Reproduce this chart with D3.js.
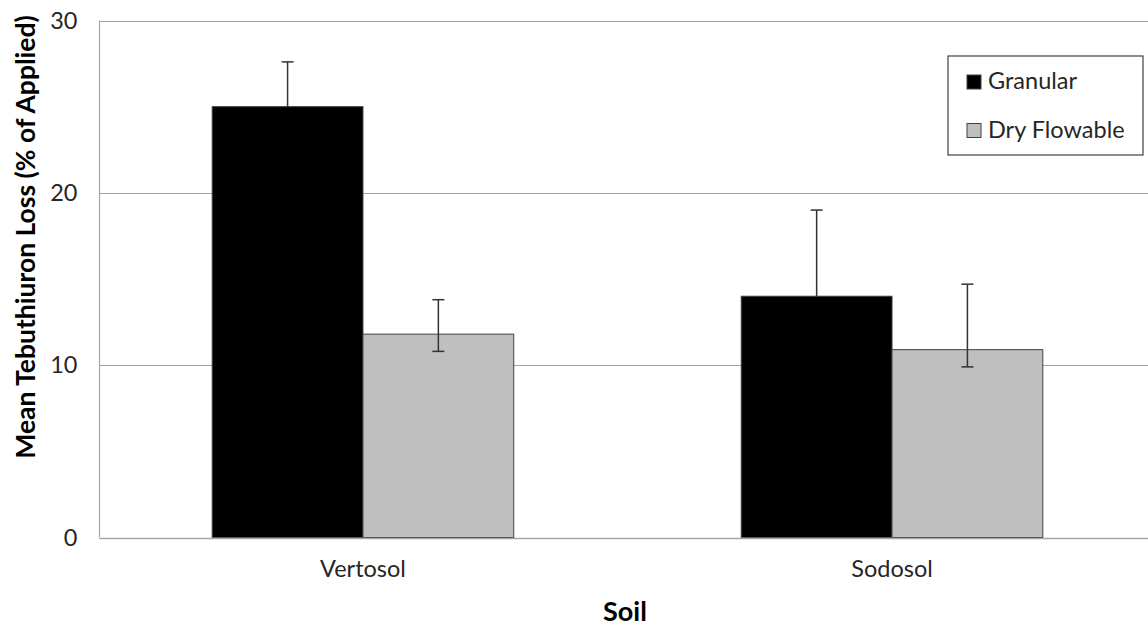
<!DOCTYPE html>
<html>
<head>
<meta charset="utf-8">
<script src="https://cdn.jsdelivr.net/npm/d3@7"></script>
<style>
  body { margin: 0; background: #fff; }
  text { font-family: Lato, "Open Sans", sans-serif; }
</style>
</head>
<body>
<div id="chart"></div>
<script>
// data
var soils = ["Vertosol", "Sodosol"];
var seriesNames = ["Granular", "Dry Flowable"];
var granular = [25.0, 14.0];
var dryFlowable = [11.8, 10.9];
var granularErrPlus = [2.6, 5.0];
var granularErrMinus = [0, 0];   // hidden inside the black bars
var dryErrPlus = [2.0, 3.8];
var dryErrMinus = [1.0, 1.0];
var yTicks = [0, 10, 20, 30];

var svgWidth = 1148;
var svgHeight = 628;

var plot = {
    left: 99.5,
    right: 1155.5,   // runs past the right edge of the picture
    top: 20.5,
    bottom: 537.5
};

var colors = { "Granular": "#000000", "Dry Flowable": "#bfbfbf" };
var outline = { "Granular": "#404040", "Dry Flowable": "#404040" };

var svg = d3.select("#chart")
            .append("svg")
            .attr("width", svgWidth)
            .attr("height", svgHeight);

var rows = soils.map(function(s, i){
    return {
        soil: s,
        values: [
            { name: "Granular", value: granular[i], plus: granularErrPlus[i], minus: granularErrMinus[i] },
            { name: "Dry Flowable", value: dryFlowable[i], plus: dryErrPlus[i], minus: dryErrMinus[i] }
        ]
    };
});

var yScale = d3.scaleLinear()
                .domain([0, 30])
                .range([plot.bottom, plot.top]);

var x0 = d3.scaleBand()
            .domain(soils)
            .range([plot.left, plot.right])
            .paddingInner(0.43)
            .paddingOuter(0.213);

var x1 = d3.scaleBand()
            .domain(seriesNames)
            .range([0, x0.bandwidth()]);

// gridlines
svg.append("g")
    .selectAll("line")
    .data(yTicks)
    .enter()
    .append("line")
    .attr("x1", plot.left)
    .attr("x2", plot.right)
    .attr("y1", function(d){ return Math.round(yScale(d)) + 0.5; })
    .attr("y2", function(d){ return Math.round(yScale(d)) + 0.5; })
    .attr("stroke", "#a6a6a6")
    .attr("stroke-width", 1.2);

// left axis line
svg.append("line")
    .attr("x1", plot.left).attr("x2", plot.left)
    .attr("y1", yScale(30)).attr("y2", yScale(0))
    .attr("stroke", "#a6a6a6")
    .attr("stroke-width", 1.2);

// bars
var groups = svg.append("g")
                .selectAll("g")
                .data(rows)
                .enter()
                .append("g")
                .attr("transform", function(d){ return "translate(" + x0(d.soil) + ",0)"; });

groups.selectAll("rect")
    .data(function(d){ return d.values; })
    .enter()
    .append("rect")
    .attr("x", function(d){ return x1(d.name); })
    .attr("y", function(d){ return yScale(d.value); })
    .attr("width", x1.bandwidth())
    .attr("height", function(d){ return yScale(0) - yScale(d.value); })
    .attr("fill", function(d){ return colors[d.name]; })
    .attr("stroke", function(d){ return outline[d.name]; })
    .attr("stroke-width", 1);

// error bars
var errs = groups.selectAll("g.err")
                .data(function(d){ return d.values; })
                .enter()
                .append("g")
                .attr("class", "err")
                .attr("stroke", "#333333")
                .attr("stroke-width", 1.5);

errs.append("line")
    .attr("x1", function(d){ return x1(d.name) + x1.bandwidth() / 2; })
    .attr("x2", function(d){ return x1(d.name) + x1.bandwidth() / 2; })
    .attr("y1", function(d){ return yScale(d.value + d.plus); })
    .attr("y2", function(d){ return yScale(d.value - d.minus); });

errs.append("line")
    .attr("x1", function(d){ return x1(d.name) + x1.bandwidth() / 2 - 6; })
    .attr("x2", function(d){ return x1(d.name) + x1.bandwidth() / 2 + 6; })
    .attr("y1", function(d){ return yScale(d.value + d.plus); })
    .attr("y2", function(d){ return yScale(d.value + d.plus); });

errs.filter(function(d){ return d.minus > 0; })
    .append("line")
    .attr("x1", function(d){ return x1(d.name) + x1.bandwidth() / 2 - 6; })
    .attr("x2", function(d){ return x1(d.name) + x1.bandwidth() / 2 + 6; })
    .attr("y1", function(d){ return yScale(d.value - d.minus); })
    .attr("y2", function(d){ return yScale(d.value - d.minus); });

// bottom axis line
svg.append("line")
    .attr("x1", plot.left).attr("x2", plot.right)
    .attr("y1", Math.round(yScale(0)) + 0.5).attr("y2", Math.round(yScale(0)) + 0.5)
    .attr("stroke", "#a6a6a6")
    .attr("stroke-width", 1.5);

// y tick labels
var yAxis = d3.axisLeft(yScale)
                .tickValues(yTicks)
                .tickSize(0)
                .tickPadding(22);

var yAxisG = svg.append("g")
                .attr("transform", "translate(" + plot.left + ",0)")
                .call(yAxis);
yAxisG.select(".domain").remove();
yAxisG.selectAll("text")
    .attr("font-family", "Lato")
    .attr("font-size", 23.5)
    .attr("fill", "#262626");

// x tick labels
var xAxis = d3.axisBottom(x0)
                .tickSize(0)
                .tickPadding(23);

var xAxisG = svg.append("g")
                .attr("transform", "translate(0," + plot.bottom + ")")
                .call(xAxis);
xAxisG.select(".domain").remove();
xAxisG.selectAll("text")
    .attr("font-family", "Lato")
    .attr("font-size", 23.5)
    .attr("fill", "#262626");

// axis titles
svg.append("text")
    .attr("x", 625)
    .attr("y", 621)
    .attr("text-anchor", "middle")
    .attr("font-weight", "bold")
    .attr("font-size", 27)
    .attr("fill", "#000")
    .text("Soil");

svg.append("text")
    .attr("transform", "translate(35,237) rotate(-90)")
    .attr("text-anchor", "middle")
    .attr("font-weight", "bold")
    .attr("font-size", 26.5)
    .attr("fill", "#000")
    .text("Mean Tebuthiuron Loss (% of Applied)");

// legend
var legend = svg.append("g");
legend.append("rect")
    .attr("x", 948)
    .attr("y", 56)
    .attr("width", 195)
    .attr("height", 99)
    .attr("fill", "#fff")
    .attr("stroke", "#404040")
    .attr("stroke-width", 1.2);

var items = legend.selectAll("g.item")
                .data(seriesNames)
                .enter()
                .append("g")
                .attr("class", "item")
                .attr("transform", function(d, i){ return "translate(967," + (75 + i * 48.5) + ")"; });

items.append("rect")
    .attr("width", 14)
    .attr("height", 14)
    .attr("fill", function(d){ return colors[d]; })
    .attr("stroke", "#404040")
    .attr("stroke-width", 1);

items.append("text")
    .attr("x", 21)
    .attr("y", 14)
    .attr("font-size", 23.5)
    .attr("fill", "#262626")
    .text(function(d){ return d; });
</script>
</body>
</html>
